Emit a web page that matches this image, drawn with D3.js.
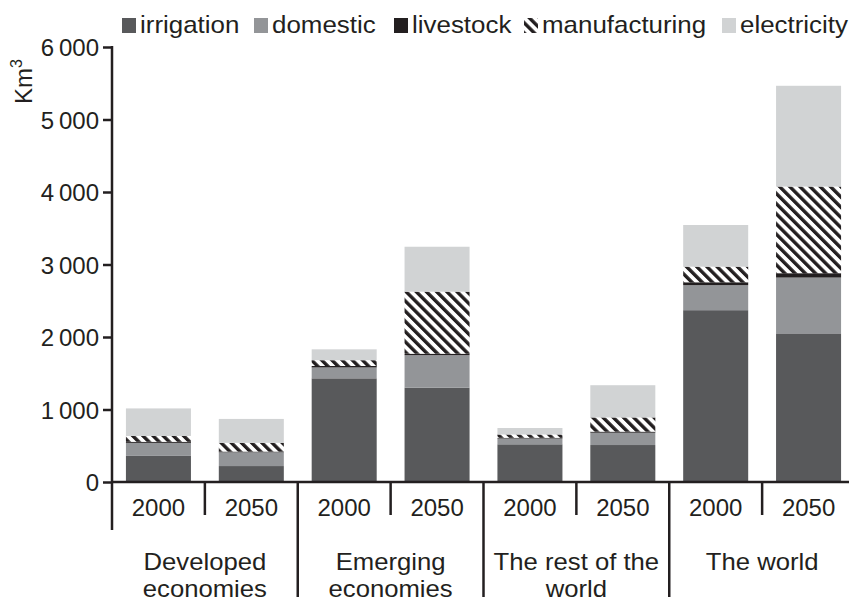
<!DOCTYPE html>
<html>
<head>
<meta charset="utf-8">
<script src="https://cdn.jsdelivr.net/npm/d3@7"></script>
<style>
  html, body { margin: 0; padding: 0; background: #fff; }
  svg { display: block; }
  text { font-family: "Liberation Sans", Arial, Helvetica, sans-serif; fill: #231f20; }
</style>
</head>
<body>
<svg id="chart" width="849" height="604"></svg>
<script>
// ---- data ----
const groups = ["Developed economies", "Emerging economies", "The rest of the world", "The world"];
const groupLines = [["Developed", "economies"], ["Emerging", "economies"], ["The rest of the", "world"], ["The world"]];
const years = ["2000", "2050"];
const seriesNames = ["irrigation", "domestic", "livestock", "manufacturing", "electricity"];
// values in km3, order: Dev 2000, Dev 2050, Emer 2000, Emer 2050, Rest 2000, Rest 2050, World 2000, World 2050
const irrigation    = [360, 220, 1430, 1300, 520, 510, 2370, 2050];
const domestic      = [180, 190, 150, 450, 80, 170, 345, 770];
const livestock     = [15, 10, 20, 20, 10, 15, 40, 60];
const manufacturing = [80, 120, 80, 855, 45, 195, 215, 1195];
const electricity   = [380, 330, 150, 620, 90, 445, 575, 1390];
const yTicks = [0, 1000, 2000, 3000, 4000, 5000, 6000];
const yTickLabels = ["0", "1\u2009000", "2\u2009000", "3\u2009000", "4\u2009000", "5\u2009000", "6\u2009000"];

const seriesValues = { irrigation, domestic, livestock, manufacturing, electricity };
const colors = { irrigation: "#58595b", domestic: "#939598", livestock: "#231f20", manufacturing: "url(#hatch)", electricity: "#d1d3d4" };

// table for stacking
const bars = [];
groups.forEach((g, gi) => years.forEach((yr, yi) => {
  const idx = gi * 2 + yi;
  const row = { key: g + "|" + yr, group: g, year: yr };
  seriesNames.forEach(s => row[s] = seriesValues[s][idx]);
  bars.push(row);
}));

const svg = d3.select("#chart");
const ink = "#231f20";
const fs = 24;

// hatch pattern
const defs = svg.append("defs");
const pat = defs.append("pattern").attr("id", "hatch")
  .attr("patternUnits", "userSpaceOnUse").attr("width", 7.2).attr("height", 7.2)
  .attr("patternTransform", "rotate(-45)");
pat.append("rect").attr("width", 7.2).attr("height", 7.2).attr("fill", "#fff");
pat.append("rect").attr("x", 0).attr("y", 0).attr("width", 3.4).attr("height", 7.2).attr("fill", ink);

// scales
const x0 = 112, x1 = 855, yBase = 482, yTop = 47;
const slot = d3.scaleBand().domain(bars.map(d => d.key)).range([x0, x1]).padding(0);
const xb = d3.scaleBand().domain(bars.map(d => d.key)).range([x0, x1]).paddingInner(0.3).paddingOuter(0.15);
const y = d3.scaleLinear().domain([0, 6000]).range([yBase, yTop]);

function txt(sel, x, yy, s, anchor, sx, size) {
  return sel.append("text")
    .attr("transform", `translate(${x},${yy}) scale(${sx || 1},1)`)
    .attr("text-anchor", anchor || "start")
    .attr("font-size", size || fs)
    .text(s);
}

// stacked bars
const stack = d3.stack().keys(seriesNames)(bars);
svg.append("g").selectAll("g").data(stack).join("g")
  .attr("fill", d => colors[d.key])
  .selectAll("rect").data(d => d).join("rect")
  .attr("x", d => xb(d.data.key))
  .attr("width", xb.bandwidth())
  .attr("y", d => y(d[1]))
  .attr("height", d => y(d[0]) - y(d[1]));

// y axis
const yAxis = d3.axisLeft(y).tickValues(yTicks).tickSize(9).tickSizeOuter(0)
  .tickFormat((d, i) => yTickLabels[i]);
const gy = svg.append("g").attr("transform", `translate(${x0},0)`).call(yAxis);
gy.select(".domain").remove();
gy.selectAll(".tick line").attr("stroke", ink).attr("stroke-width", 2.5);
gy.selectAll(".tick text").attr("font-size", fs).attr("font-family", "Liberation Sans, Arial, sans-serif")
  .attr("fill", ink).attr("x", -13).attr("dy", "0.36em");

// y axis line
svg.append("line").attr("x1", x0).attr("x2", x0).attr("y1", yTop - 1).attr("y2", 530)
  .attr("stroke", ink).attr("stroke-width", 2.5);
// baseline
svg.append("line").attr("x1", x0).attr("x2", x1).attr("y1", yBase).attr("y2", yBase)
  .attr("stroke", ink).attr("stroke-width", 2.5);

// y label
const yl = svg.append("text").attr("transform", "translate(32,104) rotate(-90)")
  .attr("font-size", 24).attr("fill", ink);
yl.append("tspan").text("Km");
yl.append("tspan").attr("font-size", 16).attr("dy", -10).text("3");

// x separators
bars.forEach((d, i) => {
  if (i === 0) return;
  const xx = slot(d.key);
  const isGroup = i % 2 === 0;
  svg.append("line").attr("x1", xx).attr("x2", xx).attr("y1", yBase)
    .attr("y2", isGroup ? 597 : 515).attr("stroke", ink).attr("stroke-width", 2.5);
});

// year labels
bars.forEach(d => {
  txt(svg, slot(d.key) + slot.bandwidth() / 2, 516, d.year, "middle");
});

// group labels
groups.forEach((g, gi) => {
  const cx = slot(bars[gi * 2].key) + slot.bandwidth();
  groupLines[gi].forEach((ln, li) => txt(svg, cx, 570 + li * 27, ln, "middle", 1.07));
});

// legend
const legendX = [122, 254, 394, 524, 722];
seriesNames.forEach((s, i) => {
  svg.append("rect").attr("x", legendX[i]).attr("y", 18).attr("width", 14).attr("height", 15)
    .attr("fill", colors[s]);
  txt(svg, legendX[i] + 18, 33, s, "start", 1.08);
});
</script>
</body>
</html>
